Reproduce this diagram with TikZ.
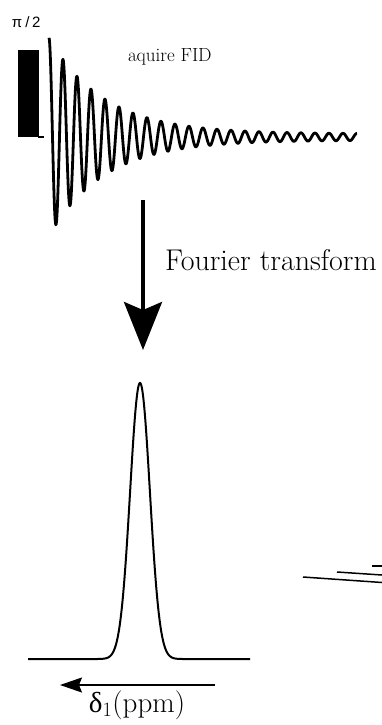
\documentclass[tikz,border=0pt]{standalone}
\usepackage{fontspec}
\newfontfamily\grk{Liberation Serif}
\newfontfamily\sansf{Liberation Sans}
\usetikzlibrary{arrows.meta}
\tikzset{
  lbl/.style={inner sep=0pt, outer sep=0pt},
  fidline/.style={line width=2.8pt, line join=round},
  specline/.style={line width=2pt, line join=round},
  thinline/.style={line width=1.5pt},
}
\begin{document}
\begin{tikzpicture}[x=1pt,y=-1pt]
\useasboundingbox (0,0) rectangle (382,725);
% pulse
\fill (18,50) rectangle (38.5,137);
\draw[thinline] (38,137) -- (44,137);
\node[lbl, anchor=base west, font=\sansf\fontsize{15}{17}\selectfont] (pi) at (12,28) {π\kern3pt/\kern2.5pt2};
% FID
\draw[fidline] plot[domain=49:357, samples=900] (\x,{137-(96*exp(-(\x-49)/55)+3.2)*cos(25.7142857*(\x-49))});
\node[lbl, anchor=base west, font=\fontsize{19}{22}\selectfont] (fid) at (128,61) {aquire FID};
% Fourier transform arrow
\coordinate (ftA) at (143,200);
\coordinate (ftB) at (143,350);
\draw[line width=3.7pt, -{Stealth[length=48pt,width=38pt,inset=8pt]}] (ftA) -- (ftB);
\node[lbl, anchor=base west, font=\fontsize{30}{34}\selectfont] (ft) at (165,270) {Fourier transform};
% spectrum
\draw[specline] (28,659) -- (95,659) -- plot[domain=95:185, samples=300] (\x,{659-276*exp(-((\x-140)^2)/196)}) -- (250,659);
% axis arrow
\coordinate (axA) at (215,685);
\coordinate (axB) at (60,685);
\draw[line width=1.6pt, -{Stealth[length=22pt,width=15pt,inset=3pt]}] (axA) -- (axB);
\node[lbl, anchor=base, font=\fontsize{29}{33}\selectfont] (ax) at (137,712) {{\grk δ}\textsubscript{1}(ppm)};
% cut-off fragments at right
\draw[thinline] (303,577) -- (382,582.5);
\draw[thinline] (337,572) -- (382,575);
\draw[thinline] (372,566) -- (382,566);
\end{tikzpicture}
\end{document}
